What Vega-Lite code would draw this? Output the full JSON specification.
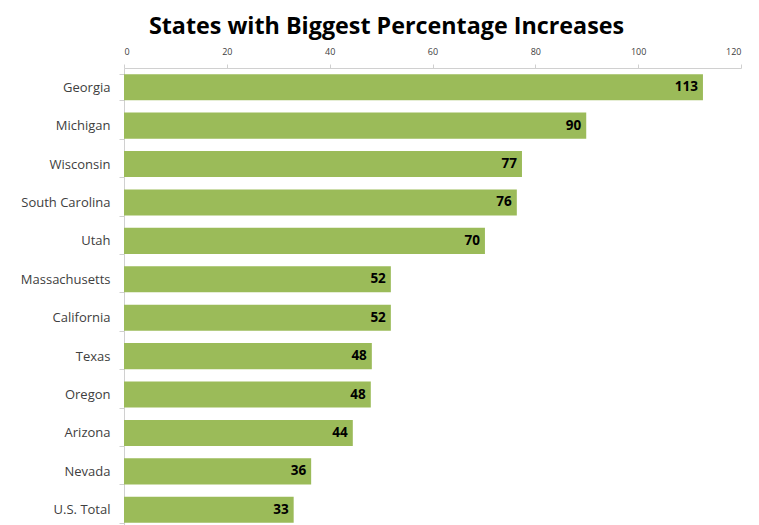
{
  "$schema": "https://vega.github.io/schema/vega-lite/v6.json",
  "autosize": "none",
  "padding": {"left": 124, "top": 68, "right": 18, "bottom": 0},
  "width": 617,
  "height": 461,
  "background": "white",
  "title": {
    "text": "States with Biggest Percentage Increases",
    "font": "Open Sans",
    "fontSize": 23.3,
    "fontWeight": "bold",
    "color": "#000000",
    "anchor": "middle",
    "dx": -46,
    "offset": 8
  },
  "data": {
    "values": [
      {"state": "Georgia", "value": 112.6, "label": "113"},
      {"state": "Michigan", "value": 89.9, "label": "90"},
      {"state": "Wisconsin", "value": 77.4, "label": "77"},
      {"state": "South Carolina", "value": 76.4, "label": "76"},
      {"state": "Utah", "value": 70.2, "label": "70"},
      {"state": "Massachusetts", "value": 51.9, "label": "52"},
      {"state": "California", "value": 51.9, "label": "52"},
      {"state": "Texas", "value": 48.2, "label": "48"},
      {"state": "Oregon", "value": 48.0, "label": "48"},
      {"state": "Arizona", "value": 44.5, "label": "44"},
      {"state": "Nevada", "value": 36.4, "label": "36"},
      {"state": "U.S. Total", "value": 33.0, "label": "33"}
    ]
  },
  "encoding": {
    "y": {
      "field": "state",
      "type": "nominal",
      "sort": null,
      "scale": {"paddingInner": 0.32, "paddingOuter": 0.16},
      "axis": {
        "title": null,
        "domainColor": "#d0d0d0",
        "tickColor": "#d0d0d0",
        "tickBand": "extent",
        "tickSize": 5,
        "labelFont": "Open Sans",
        "labelFontSize": 13,
        "labelColor": "#404040",
        "labelPadding": 9
      }
    },
    "x": {
      "field": "value",
      "type": "quantitative",
      "scale": {"domain": [0, 120], "nice": false},
      "axis": {
        "orient": "top",
        "title": null,
        "values": [0, 20, 40, 60, 80, 100, 120],
        "grid": false,
        "domainColor": "#d0d0d0",
        "tickColor": "#d0d0d0",
        "tickSize": 4,
        "labelFont": "Open Sans",
        "labelFontSize": 9,
        "labelColor": "#404040",
        "labelPadding": 8
      }
    }
  },
  "layer": [
    {"mark": {"type": "bar", "color": "#9BBB59"}},
    {
      "mark": {
        "type": "text",
        "align": "right",
        "baseline": "middle",
        "dx": -5,
        "font": "Open Sans",
        "fontSize": 13.5,
        "fontWeight": "bold",
        "color": "#000000"
      },
      "encoding": {"text": {"field": "label", "type": "nominal"}}
    }
  ],
  "config": {"view": {"stroke": null}}
}
